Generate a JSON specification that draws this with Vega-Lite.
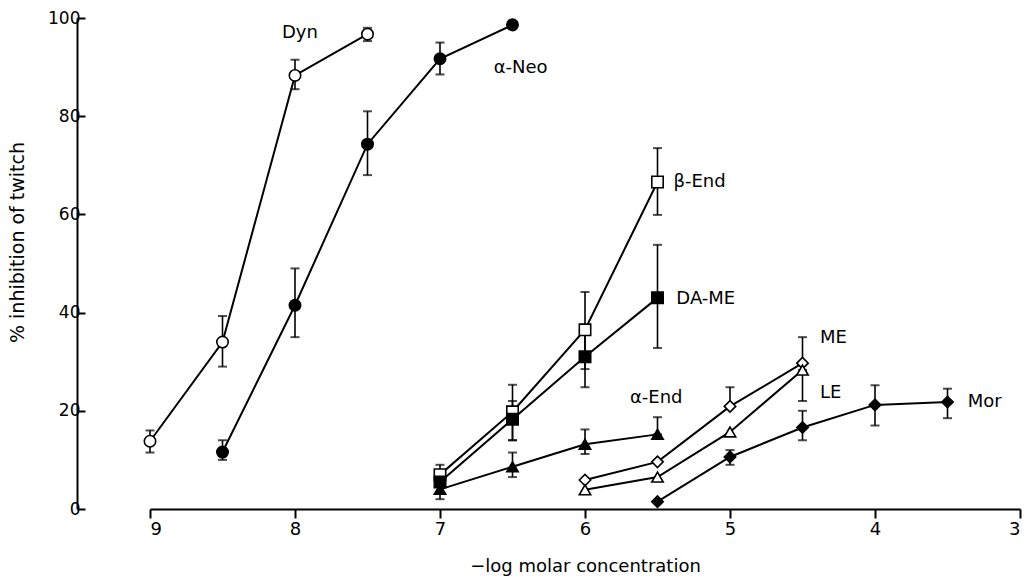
{
  "$schema": "https://vega.github.io/schema/vega-lite/v6.json",
  "width": 870,
  "height": 491,
  "autosize": {"type": "none"},
  "padding": {"left": 150, "top": 18, "right": 9, "bottom": 69},
  "background": "white",
  "config": {"view": {"stroke": null}, "font": "DejaVu Sans"},
  "datasets": {
    "pts": [
      {"series": "Dyn", "x": 9, "y": 13.8, "lo": 11.5, "hi": 16},
      {"series": "Dyn", "x": 8.5, "y": 34, "lo": 29, "hi": 39.3},
      {"series": "Dyn", "x": 8, "y": 88.3, "lo": 85.5, "hi": 91.5},
      {"series": "Dyn", "x": 7.5, "y": 96.7, "lo": 95.3, "hi": 98},
      {"series": "α-Neo", "x": 8.5, "y": 11.6, "lo": 10, "hi": 14},
      {"series": "α-Neo", "x": 8, "y": 41.5, "lo": 35, "hi": 49},
      {"series": "α-Neo", "x": 7.5, "y": 74.3, "lo": 68, "hi": 81},
      {"series": "α-Neo", "x": 7, "y": 91.7, "lo": 88.5, "hi": 95},
      {"series": "α-Neo", "x": 6.5, "y": 98.6, "lo": null, "hi": null},
      {"series": "β-End", "x": 7, "y": 7, "lo": 5, "hi": 9},
      {"series": "β-End", "x": 6.5, "y": 19.8, "lo": 14, "hi": 25.3},
      {"series": "β-End", "x": 6, "y": 36.5, "lo": 28.5, "hi": 44.2},
      {"series": "β-End", "x": 5.5, "y": 66.6, "lo": 59.9, "hi": 73.5},
      {"series": "DA-ME", "x": 7, "y": 5.5, "lo": null, "hi": null},
      {"series": "DA-ME", "x": 6.5, "y": 18.3, "lo": 14, "hi": 22},
      {"series": "DA-ME", "x": 6, "y": 31, "lo": 24.8, "hi": 37},
      {"series": "DA-ME", "x": 5.5, "y": 43, "lo": 32.8, "hi": 53.8},
      {"series": "α-End", "x": 7, "y": 4, "lo": 2, "hi": 6},
      {"series": "α-End", "x": 6.5, "y": 8.6, "lo": 6.5, "hi": 11.5},
      {"series": "α-End", "x": 6, "y": 13.2, "lo": 11.2, "hi": 16.2},
      {"series": "α-End", "x": 5.5, "y": 15.2, "lo": 15.2, "hi": 18.7},
      {"series": "ME", "x": 6, "y": 5.9, "lo": null, "hi": null},
      {"series": "ME", "x": 5.5, "y": 9.6, "lo": null, "hi": null},
      {"series": "ME", "x": 5, "y": 20.9, "lo": 20.9, "hi": 24.8},
      {"series": "ME", "x": 4.5, "y": 29.7, "lo": 29.7, "hi": 35},
      {"series": "LE", "x": 6, "y": 3.9, "lo": null, "hi": null},
      {"series": "LE", "x": 5.5, "y": 6.5, "lo": null, "hi": null},
      {"series": "LE", "x": 5, "y": 15.7, "lo": null, "hi": null},
      {"series": "LE", "x": 4.5, "y": 28.3, "lo": 22, "hi": 28.3},
      {"series": "Mor", "x": 5.5, "y": 1.5, "lo": null, "hi": null},
      {"series": "Mor", "x": 5, "y": 10.6, "lo": 9, "hi": 12},
      {"series": "Mor", "x": 4.5, "y": 16.6, "lo": 14, "hi": 20},
      {"series": "Mor", "x": 4, "y": 21.2, "lo": 17, "hi": 25.2},
      {"series": "Mor", "x": 3.5, "y": 21.8, "lo": 18.5, "hi": 24.5}
    ],
    "labels": [
      {"text": "Dyn", "x": 8.09, "y": 97},
      {"text": "α-Neo", "x": 6.63, "y": 89.9},
      {"text": "β-End", "x": 5.39, "y": 66.6},
      {"text": "DA-ME", "x": 5.37, "y": 42.8},
      {"text": "α-End", "x": 5.69, "y": 22.6},
      {"text": "ME", "x": 4.38, "y": 34.8},
      {"text": "LE", "x": 4.38, "y": 23.6},
      {"text": "Mor", "x": 3.36, "y": 21.8}
    ]
  },
  "layer": [
    {
      "data": {"name": "pts"},
      "mark": {"type": "line", "color": "black", "strokeWidth": 2},
      "encoding": {
        "x": {"field": "x", "type": "quantitative", "scale": {"domain": [9, 3]},
          "axis": {"values": [9, 8, 7, 6, 5, 4, 3], "format": "d", "title": "−log molar concentration", "grid": false,
            "domainColor": "black", "domainWidth": 2, "tickColor": "black", "tickWidth": 2, "tickSize": 9,
            "labelFont": "DejaVu Sans", "labelFontSize": 18, "labelColor": "black", "labelPadding": 2,
            "titleFont": "DejaVu Sans", "titleFontSize": 18, "titleFontWeight": "normal", "titleColor": "black", "titlePadding": 19}},
        "y": {"field": "y", "type": "quantitative", "scale": {"domain": [0, 100]},
          "axis": {"values": [0, 20, 40, 60, 80, 100], "title": "% inhibition of twitch", "grid": false, "offset": 73,
            "domainColor": "black", "domainWidth": 2, "tickColor": "black", "tickWidth": 2, "tickSize": -8,
            "labelFont": "DejaVu Sans", "labelFontSize": 17, "labelColor": "black", "labelPadding": 5,
            "titleFont": "DejaVu Sans", "titleFontSize": 19, "titleFontWeight": "normal", "titleColor": "black", "titleY": 224, "titlePadding": 20}},
        "detail": {"field": "series"},
        "order": {"field": "x", "sort": "descending"}
      }
    },
    {
      "data": {"name": "pts"},
      "transform": [{"filter": "datum.lo != null"}],
      "mark": {"type": "rule", "color": "black", "strokeWidth": 1.6},
      "encoding": {
        "x": {"field": "x", "type": "quantitative"},
        "y": {"field": "lo", "type": "quantitative"},
        "y2": {"field": "hi"}
      }
    },
    {
      "data": {"name": "pts"},
      "transform": [{"filter": "datum.lo != null"}, {"fold": ["lo", "hi"], "as": ["end", "val"]}],
      "mark": {"type": "tick", "orient": "horizontal", "color": "black", "size": 9, "thickness": 2},
      "encoding": {
        "x": {"field": "x", "type": "quantitative"},
        "y": {"field": "val", "type": "quantitative"}
      }
    },
    {
      "data": {"name": "pts"},
      "mark": {"type": "point", "size": 130, "stroke": "black", "strokeWidth": 1.6, "opacity": 1},
      "encoding": {
        "x": {"field": "x", "type": "quantitative"},
        "y": {"field": "y", "type": "quantitative"},
        "shape": {"field": "series", "type": "nominal", "legend": null,
          "scale": {"domain": ["Dyn", "α-Neo", "β-End", "DA-ME", "α-End", "ME", "LE", "Mor"],
            "range": ["circle", "circle", "square", "square", "triangle-up", "diamond", "triangle-up", "diamond"]}},
        "fill": {"field": "series", "type": "nominal", "legend": null,
          "scale": {"domain": ["Dyn", "α-Neo", "β-End", "DA-ME", "α-End", "ME", "LE", "Mor"],
            "range": ["white", "black", "white", "black", "black", "white", "white", "black"]}}
      }
    },
    {
      "data": {"name": "labels"},
      "mark": {"type": "text", "align": "left", "baseline": "middle", "fontSize": 18, "font": "DejaVu Sans", "color": "black"},
      "encoding": {
        "x": {"field": "x", "type": "quantitative"},
        "y": {"field": "y", "type": "quantitative"},
        "text": {"field": "text"}
      }
    }
  ]
}
